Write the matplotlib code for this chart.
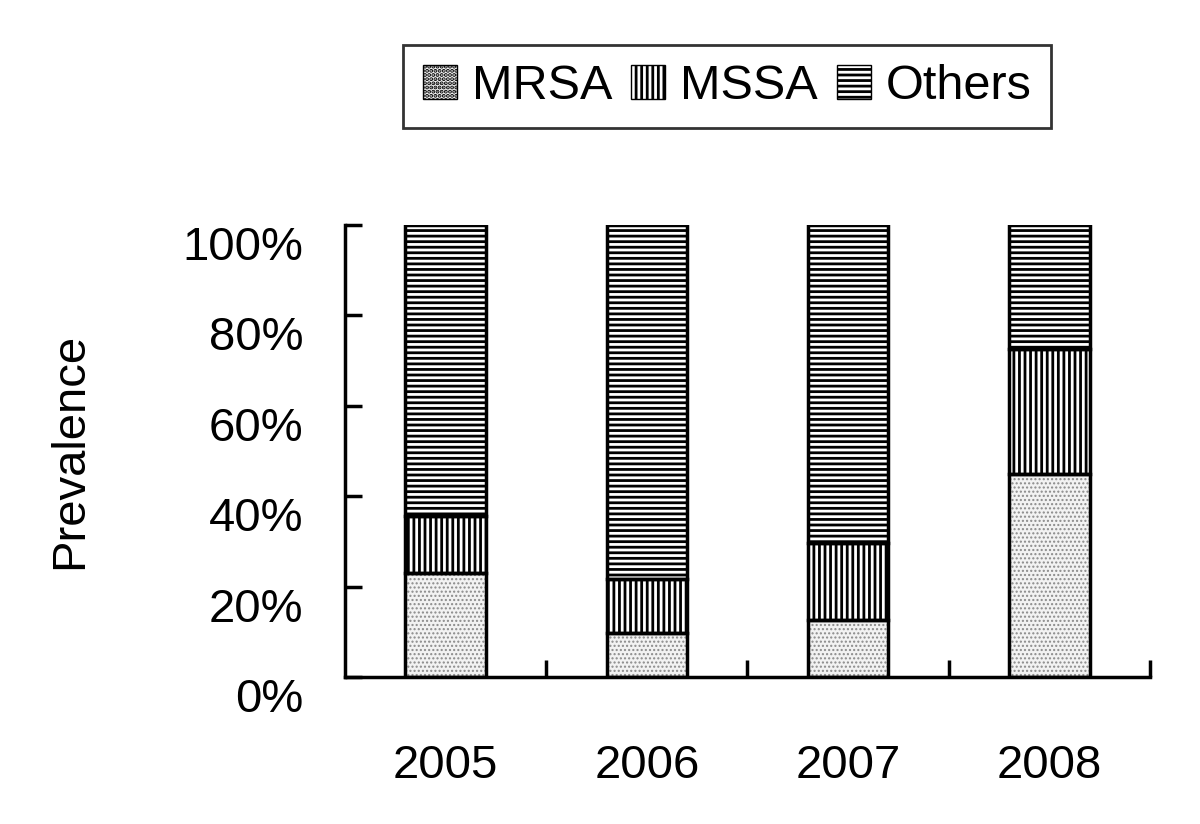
import matplotlib
matplotlib.use("Agg")
import matplotlib.pyplot as plt
import matplotlib.transforms as mtransforms
from matplotlib.patches import Patch
import numpy as np

years = ["2005", "2006", "2007", "2008"]
mrsa = [23.0, 9.7, 12.6, 45.0]
mssa = [12.6, 12.0, 17.0, 27.6]
others = [100 - a - b for a, b in zip(mrsa, mssa)]
ytick_vals = [0, 20, 40, 60, 80, 100]
ytick_labels = ["0%", "20%", "40%", "60%", "80%", "100%"]

plt.rcParams["font.family"] = ["Liberation Sans", "DejaVu Sans"]

fig = plt.figure(figsize=(12, 8.24), dpi=100)
ax = fig.add_axes([0.2875, 0.1784, 0.6708, 0.5485])

x = np.arange(len(years))
w = 0.4

# light stipple for MRSA: gray dots, then a black outline on top
plt.rcParams["hatch.linewidth"] = 1.0
ax.bar(x, mrsa, width=w, color="#f2f2f2", edgecolor="#8a8a8a", hatch="....", linewidth=0)
plt.rcParams["hatch.linewidth"] = 2.0
ax.bar(x, mssa, bottom=mrsa, width=w, color="white", edgecolor="black", hatch="|||", linewidth=0)
ax.bar(x, others, bottom=np.add(mrsa, mssa), width=w, color="white", edgecolor="black",
       hatch="---", linewidth=0)
for bottom, h in [(0, mrsa), (mrsa, mssa), (np.add(mrsa, mssa), others)]:
    ax.bar(x, h, bottom=bottom, width=w, fill=False, edgecolor="black", linewidth=2.5)

ax.set_xlim(-0.5, 3.5)
ax.set_ylim(0, 100)
ax.set_yticks(ytick_vals)
ax.set_yticklabels(ytick_labels, fontsize=34)
ax.set_xticks(x)
ax.set_xticklabels(years, fontsize=34)
ax.set_xticks([0.5, 1.5, 2.5, 3.5], minor=True)
ax.tick_params(axis="x", which="major", length=0, pad=48)
ax.tick_params(axis="x", which="minor", direction="in", length=12, width=2.5)
ax.tick_params(axis="y", direction="in", length=12, width=2.5, pad=30)

shift = mtransforms.ScaledTranslation(0, -0.18, fig.dpi_scale_trans)
for lab in ax.get_yticklabels():
    lab.set_transform(lab.get_transform() + shift)

for s in ["top", "right"]:
    ax.spines[s].set_visible(False)
for s in ["left", "bottom"]:
    ax.spines[s].set_linewidth(2.5)

ax.set_ylabel("Prevalence", fontsize=34)
ax.yaxis.set_label_coords(-0.314, 0.5)

handles = [
    Patch(facecolor="#f2f2f2", edgecolor="black", hatch="....", label="MRSA"),
    Patch(facecolor="white", edgecolor="black", hatch="|||", label="MSSA"),
    Patch(facecolor="white", edgecolor="black", hatch="---", label="Others"),
]
leg = fig.legend(handles=handles, loc="center", bbox_to_anchor=(0.606, 0.895), ncol=3,
                 fontsize=35, frameon=True, fancybox=False, edgecolor="black",
                 handlelength=0.7, handleheight=0.7, handletextpad=0.3, columnspacing=0.4,
                 borderpad=0.4, borderaxespad=0)
leg.get_frame().set_linewidth(2)

plt.savefig("out.png", dpi=100)
plt.close()
